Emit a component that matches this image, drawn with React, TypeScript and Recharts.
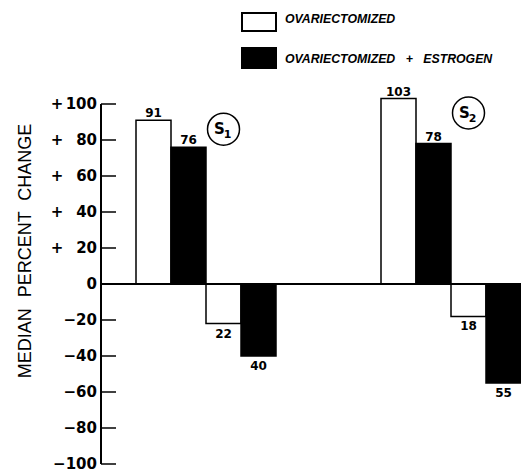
import { BarChart, Bar, XAxis, YAxis, ReferenceLine, ReferenceDot, LabelList, Legend } from "recharts";

// S1 / S2 groups, each: rise and fall for both treatments (median % change)
const groups = ["S1", "S2"];
const ovxRise = [91, 103];
const ovxEstRise = [76, 78];
const ovxFall = [-22, -18];
const ovxEstFall = [-40, -55];
const emptySlotsBefore = [1, 3];
const tagLevels = [86, 95];
const yTicks = [-100, -80, -60, -40, -20, 0, 20, 40, 60, 80, 100];

const seriesNames = { ovx: "OVARIECTOMIZED", ovxEst: "OVARIECTOMIZED + ESTROGEN" };

type Slot = { slot: string; ovx?: number; ovxEst?: number };

const data: Slot[] = [];
groups.forEach((g, i) => {
  for (let k = 0; k < emptySlotsBefore[i]; k++) data.push({ slot: `${g}-gap${k}` });
  data.push({ slot: `${g}-1`, ovx: ovxRise[i] });
  data.push({ slot: `${g}-2`, ovxEst: ovxEstRise[i] });
  data.push({ slot: `${g}-3`, ovx: ovxFall[i] });
  data.push({ slot: `${g}-4`, ovxEst: ovxEstFall[i] });
});

const AXIS_X = 101;
const tickFont = "'DejaVu Sans', sans-serif";

function AxisTick(props: any) {
  const { y, payload } = props;
  const v = payload.value as number;
  return (
    <g>
      <line x1={AXIS_X} x2={AXIS_X + 15} y1={y} y2={y} stroke="#000" strokeWidth={1.5} />
      {v > 0 && (
        <text x={57} y={y} dy="0.33em" textAnchor="middle" fontFamily={tickFont} fontWeight="bold" fontSize={15} fill="#000">
          +
        </text>
      )}
      <text x={97} y={y} dy="0.33em" textAnchor="end" fontFamily={tickFont} fontWeight="bold" fontSize={15} fill="#000">
        {v < 0 ? `\u2212${-v}` : `${v}`}
      </text>
    </g>
  );
}

function ValueLabel(props: any) {
  const { x, y, width, height, value } = props;
  if (value === undefined || value === null || value === 0) return null;
  const top = Math.min(y, y + height);
  const bottom = Math.max(y, y + height);
  const cx = x + width / 2;
  return (
    <text
      x={cx}
      y={value > 0 ? top - 3 : bottom + 14}
      textAnchor="middle"
      fontFamily={tickFont}
      fontWeight="bold"
      fontSize={12}
      fill="#000"
    >
      {Math.abs(value)}
    </text>
  );
}

function GroupTag(label: string) {
  return (props: any) => {
    const { cx, cy } = props;
    return (
      <g>
        <circle cx={cx} cy={cy} r={16} fill="#fff" stroke="#000" strokeWidth={1.5} />
        <text x={cx - 4} y={cy + 5} textAnchor="middle" fontFamily={tickFont} fontWeight="bold" fontSize={15} fill="#000">
          {label[0]}
        </text>
        <text x={cx + 4} y={cy + 9} textAnchor="middle" fontFamily={tickFont} fontWeight="bold" fontSize={11} fill="#000">
          {label.slice(1)}
        </text>
      </g>
    );
  };
}

function LegendBox(props: any) {
  const items = (props.payload || []) as any[];
  return (
    <svg width={521} height={80} style={{ display: "block" }}>
      {items.map((item, i) => (
        <g key={item.value}>
          <rect
            x={242}
            y={13 + i * 35}
            width={34}
            height={18 + i * 2}
            fill={item.color}
            stroke="#000"
            strokeWidth={2}
          />
          <text
            x={285}
            y={23 + i * 40}
            fontFamily="'Liberation Sans', Arial, sans-serif"
            fontWeight="bold"
            fontStyle="italic"
            fontSize={12.3}
            fill="#000"
            style={{ wordSpacing: "7px" }}
          >
            {item.value}
          </text>
        </g>
      ))}
    </svg>
  );
}

export default function App() {
  return (
    <div style={{ position: "absolute", left: 0, top: 0, width: 521, height: 472, background: "#fff" }}>
      <BarChart
        width={521}
        height={472}
        data={data}
        margin={{ top: 86, right: 0, bottom: 8, left: 0 }}
        barCategoryGap={0}
        barGap={0}
      >
        <XAxis dataKey="slot" hide />
        <YAxis
          width={AXIS_X}
          domain={[-100, 110]}
          ticks={yTicks}
          interval={0}
          axisLine={false}
          tickLine={false}
          tick={(p: any) => <AxisTick {...p} />}
          label={{
            content: () => (
              <text
                x={25}
                y={251}
                transform="rotate(-90 25 251)"
                textAnchor="middle"
                dominantBaseline="central"
                fontFamily="'Liberation Sans', Arial, sans-serif"
                fontSize={18}
                fill="#000"
                style={{ wordSpacing: "6px" }}
              >
                MEDIAN PERCENT CHANGE
              </text>
            ),
          }}
        />
        <Legend
          layout="horizontal"
          verticalAlign="middle"
          align="center"
          wrapperStyle={{ top: 0, left: 0, width: 521, height: 80 }}
          content={(p: any) => <LegendBox {...p} />}
        />
        <ReferenceLine
          segment={[
            { x: data[0].slot, y: -100 },
            { x: data[0].slot, y: 100 },
          ]}
          position="start"
          stroke="#000"
          strokeWidth={2}
        />
        <Bar dataKey="ovx" name={seriesNames.ovx} stackId="s" fill="#fff" stroke="#000" strokeWidth={1.5} isAnimationActive={false}>
          <LabelList dataKey="ovx" content={(p: any) => <ValueLabel {...p} />} />
        </Bar>
        <Bar dataKey="ovxEst" name={seriesNames.ovxEst} stackId="s" fill="#000" stroke="#000" strokeWidth={1.5} isAnimationActive={false}>
          <LabelList dataKey="ovxEst" content={(p: any) => <ValueLabel {...p} />} />
        </Bar>
        <ReferenceLine y={0} stroke="#000" strokeWidth={2} />
        {groups.map((g, i) => (
          <ReferenceDot key={g} x={`${g}-3`} y={tagLevels[i]} r={16} shape={GroupTag(g)} />
        ))}
      </BarChart>
    </div>
  );
}
